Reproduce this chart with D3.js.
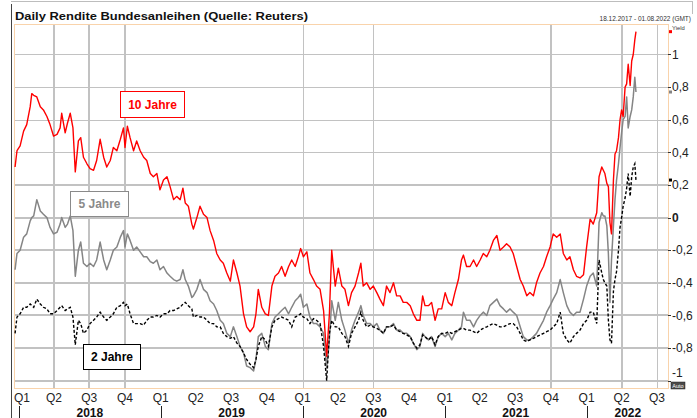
<!DOCTYPE html>
<html>
<head>
<meta charset="utf-8">
<script src="https://cdn.jsdelivr.net/npm/d3@7"></script>
<style>
  body { margin: 0; background: #fff; }
  svg { display: block; font-family: "Liberation Sans", Arial, sans-serif; }
</style>
</head>
<body>
<svg></svg>
<script>
// period shown in the chart header
const startDate = new Date(2017, 11, 18);
const endDate = new Date(2022, 7, 1);

// trading days, counted in days since 18.12.2017
const dayNr = [
  4, 9, 17, 26, 34, 43, 47, 52, 60, 69, 77, 86, 94, 103, 112, 120, 124, 133, 139, 146,
  153, 159, 167, 173, 180, 189, 197, 206, 214, 223, 232, 240, 249, 257, 266, 275, 283, 287, 293, 300,
  309, 317, 326, 335, 343, 352, 360, 369, 377, 386, 395, 403, 412, 420, 429, 436, 442, 450, 459, 463,
  472, 480, 489, 498, 506, 515, 523, 532, 540, 549, 558, 566, 575, 583, 592, 600, 609, 618, 624, 630,
  639, 648, 656, 665, 673, 682, 690, 699, 708, 716, 725, 733, 739, 746, 755, 763, 772, 780, 789, 798,
  806, 813, 819, 828,
  836, 845, 853, 862, 870, 879, 888, 894, 900, 909, 918, 926, 935, 943, 952, 960, 969, 978, 986, 995,
  1003, 1012, 1021, 1029, 1038, 1046, 1053, 1059, 1068, 1076, 1085, 1093, 1102, 1111, 1119, 1128, 1136, 1145, 1153, 1158,
  1166, 1175, 1184, 1192, 1201, 1209, 1218, 1226, 1235, 1244, 1252, 1261, 1269, 1278, 1286, 1295, 1304, 1312, 1321, 1329,
  1338, 1346, 1355, 1364, 1372, 1381, 1389, 1398, 1407, 1415, 1424, 1432, 1441, 1449, 1458, 1467, 1475, 1484, 1492, 1501,
  1507, 1514, 1518, 1522, 1527, 1531, 1535, 1539, 1544, 1548, 1552, 1557, 1561, 1565, 1569, 1574, 1578, 1582, 1587, 1591,
  1595, 1599, 1602
];

const yield10 = [
  0.31, 0.41, 0.44, 0.53, 0.57, 0.68, 0.76, 0.75, 0.74, 0.68, 0.66, 0.62, 0.57, 0.50, 0.51, 0.55, 0.64, 0.52, 0.58, 0.64,
  0.55, 0.28, 0.47, 0.49, 0.37, 0.33, 0.30, 0.29, 0.35, 0.48, 0.37, 0.31, 0.35, 0.43, 0.41, 0.48, 0.55, 0.43, 0.56, 0.49,
  0.41, 0.47, 0.41, 0.37, 0.35, 0.27, 0.25, 0.27, 0.17, 0.23, 0.25, 0.19, 0.11, 0.13, 0.11, 0.18, 0.09, 0.07, -0.04, -0.07,
  0.00, 0.07, 0.02, 0.00, -0.08, -0.14, -0.22, -0.26, -0.28, -0.34, -0.39, -0.26, -0.34, -0.42, -0.59, -0.67, -0.70, -0.67, -0.59, -0.44,
  -0.55, -0.59, -0.60, -0.42, -0.36, -0.34, -0.30, -0.36, -0.30, -0.26, -0.30, -0.24, -0.19, -0.24, -0.21, -0.34, -0.38, -0.42, -0.44, -0.57,
  -0.85, -0.59, -0.20, -0.42,
  -0.31, -0.42, -0.44, -0.54, -0.46, -0.42, -0.34, -0.28, -0.42, -0.40, -0.44, -0.42, -0.46, -0.50, -0.54, -0.42, -0.46, -0.40, -0.48, -0.48,
  -0.52, -0.52, -0.54, -0.59, -0.63, -0.63, -0.48, -0.54, -0.54, -0.52, -0.63, -0.56, -0.56, -0.46, -0.52, -0.54, -0.46, -0.38, -0.26, -0.23,
  -0.30, -0.30, -0.26, -0.30, -0.26, -0.22, -0.24, -0.20, -0.14, -0.11, -0.20, -0.18, -0.16, -0.18, -0.22, -0.30, -0.38, -0.42, -0.48, -0.46,
  -0.48, -0.40, -0.34, -0.30, -0.24, -0.18, -0.10, -0.12, -0.10, -0.22, -0.26, -0.24, -0.32, -0.36, -0.37, -0.35, -0.18, -0.01, -0.04, 0.03,
  0.25, 0.31, 0.29, 0.27, 0.21, 0.19, -0.03, -0.10, 0.23, 0.39, 0.41, 0.49, 0.60, 0.66, 0.62, 0.80, 0.82, 0.94, 0.81, 0.96,
  1.00, 1.09, 1.14
];

const yield5 = [
  -0.32, -0.22, -0.20, -0.12, -0.10, -0.02, 0.00, 0.01, 0.11, 0.04, 0.02, 0.00, -0.06, -0.10, -0.09, -0.04, 0.00, -0.06, -0.04, 0.01,
  -0.08, -0.36, -0.20, -0.15, -0.28, -0.30, -0.28, -0.30, -0.26, -0.15, -0.26, -0.32, -0.26, -0.20, -0.18, -0.12, -0.08, -0.18, -0.10, -0.14,
  -0.20, -0.18, -0.21, -0.24, -0.24, -0.27, -0.28, -0.26, -0.32, -0.30, -0.34, -0.36, -0.38, -0.39, -0.38, -0.32, -0.38, -0.42, -0.49, -0.48,
  -0.44, -0.38, -0.44, -0.46, -0.51, -0.53, -0.57, -0.63, -0.65, -0.71, -0.73, -0.67, -0.73, -0.79, -0.83, -0.91, -0.92, -0.94, -0.87, -0.73,
  -0.71, -0.79, -0.81, -0.65, -0.61, -0.59, -0.57, -0.55, -0.59, -0.55, -0.51, -0.49, -0.47, -0.55, -0.53, -0.61, -0.65, -0.65, -0.67, -0.71,
  -0.92, -0.75, -0.51, -0.63,
  -0.52, -0.63, -0.69, -0.77, -0.69, -0.63, -0.58, -0.54, -0.60, -0.65, -0.65, -0.67, -0.65, -0.69, -0.71, -0.67, -0.67, -0.65, -0.69, -0.69,
  -0.71, -0.71, -0.73, -0.77, -0.81, -0.79, -0.71, -0.73, -0.75, -0.73, -0.79, -0.73, -0.71, -0.73, -0.71, -0.75, -0.71, -0.69, -0.67, -0.58,
  -0.63, -0.63, -0.67, -0.63, -0.60, -0.58, -0.60, -0.54, -0.52, -0.50, -0.54, -0.56, -0.58, -0.56, -0.58, -0.60, -0.67, -0.73, -0.75, -0.75,
  -0.73, -0.71, -0.67, -0.63, -0.58, -0.54, -0.50, -0.46, -0.38, -0.46, -0.54, -0.58, -0.60, -0.58, -0.58, -0.50, -0.42, -0.36, -0.34, -0.42,
  -0.03, 0.03, 0.01, 0.01, -0.05, -0.22, -0.52, -0.26, -0.05, 0.11, 0.23, 0.33, 0.43, 0.52, 0.60, 0.62, 0.74, 0.55, 0.62, 0.66,
  0.74, 0.86, 0.77
];

const yield2 = [
  -0.71, -0.61, -0.59, -0.55, -0.55, -0.53, -0.54, -0.55, -0.50, -0.53, -0.55, -0.56, -0.59, -0.59, -0.57, -0.55, -0.54, -0.57, -0.56, -0.55,
  -0.61, -0.78, -0.63, -0.65, -0.71, -0.69, -0.65, -0.63, -0.61, -0.58, -0.61, -0.63, -0.61, -0.59, -0.55, -0.54, -0.52, -0.54, -0.53, -0.59,
  -0.65, -0.65, -0.65, -0.66, -0.63, -0.61, -0.61, -0.60, -0.61, -0.59, -0.59, -0.57, -0.57, -0.56, -0.55, -0.53, -0.52, -0.54, -0.56, -0.61,
  -0.60, -0.61, -0.61, -0.63, -0.65, -0.65, -0.67, -0.67, -0.71, -0.73, -0.74, -0.73, -0.77, -0.79, -0.83, -0.87, -0.90, -0.92, -0.87, -0.79,
  -0.73, -0.75, -0.79, -0.67, -0.63, -0.62, -0.61, -0.62, -0.63, -0.67, -0.61, -0.60, -0.59, -0.61, -0.62, -0.65, -0.62, -0.63, -0.65, -0.79,
  -1.00, -0.71, -0.63, -0.67,
  -0.67, -0.71, -0.73, -0.79, -0.71, -0.67, -0.63, -0.58, -0.63, -0.67, -0.66, -0.67, -0.68, -0.69, -0.71, -0.67, -0.67, -0.66, -0.69, -0.70,
  -0.71, -0.72, -0.73, -0.77, -0.80, -0.78, -0.72, -0.73, -0.75, -0.73, -0.78, -0.73, -0.71, -0.71, -0.70, -0.71, -0.70, -0.69, -0.68, -0.68,
  -0.69, -0.69, -0.70, -0.71, -0.69, -0.68, -0.67, -0.66, -0.65, -0.66, -0.67, -0.67, -0.66, -0.65, -0.65, -0.67, -0.71, -0.75, -0.76, -0.75,
  -0.74, -0.73, -0.72, -0.71, -0.70, -0.69, -0.67, -0.65, -0.58, -0.71, -0.75, -0.77, -0.73, -0.71, -0.69, -0.65, -0.63, -0.58, -0.58, -0.65,
  -0.26, -0.34, -0.38, -0.40, -0.42, -0.63, -0.75, -0.77, -0.45, -0.38, -0.33, -0.20, -0.06, 0.00, 0.07, 0.12, 0.18, 0.27, 0.13, 0.25,
  0.31, 0.33, 0.23
];

const seriesNames = ["10 Jahre", "5 Jahre", "2 Jahre"];
const yTicks = [-1, -0.8, -0.6, -0.4, -0.2, 0, 0.2, 0.4, 0.6, 0.8, 1];
const years = [2018, 2019, 2020, 2021, 2022];
// quarters that carry a vertical grid line in the original
const gridQuarters = ["2018-04-01", "2018-07-01", "2018-10-01", "2020-01-01", "2020-07-01", "2021-10-01", "2022-04-01", "2022-07-01"];

(function bundChart() {
  const W = 697, H = 418;
  const svg = d3.select("svg").attr("width", W).attr("height", H);

  const left = 14, right = 669, top = 24, bottom = 388;

  const x = d3.scaleTime().domain([startDate, endDate]).range([13.5, 669]);
  const y = d3.scaleLinear().domain([-1.045, 1.187]).range([bottom, top]);
  const fmt = d3.formatLocale({decimal: ",", thousands: ".", grouping: [3], currency: ["", " €"], minus: "-"}).format(".1~f");
  const toDate = d => d3.timeDay.offset(startDate, d);

  // outer frame + header
  svg.append("line").attr("x1", 11).attr("x2", 693).attr("y1", 1.5).attr("y2", 1.5)
      .attr("stroke", "#bdbdbd");
  svg.append("line").attr("x1", 692.5).attr("x2", 692.5).attr("y1", 1).attr("y2", 14)
      .attr("stroke", "#bdbdbd");
  svg.append("line").attr("x1", 11.5).attr("x2", 11.5).attr("y1", 4).attr("y2", H)
      .attr("stroke", "#444");

  svg.append("text")
      .attr("x", 15).attr("y", 20)
      .attr("font-size", 11).attr("font-weight", "bold").attr("fill", "#111")
      .attr("textLength", 293).attr("lengthAdjust", "spacingAndGlyphs")
      .text("Daily Rendite Bundesanleihen (Quelle: Reuters)");

  svg.append("text")
      .attr("x", 691).attr("y", 20.5).attr("text-anchor", "end")
      .attr("font-size", 6.5).attr("fill", "#333")
      .text(d3.timeFormat("%d.%m.%Y")(startDate) + " - " + d3.timeFormat("%d.%m.%Y")(endDate) + " (GMT)");

  svg.append("text")
      .attr("x", 672).attr("y", 30).attr("font-size", 5.8).attr("fill", "#333")
      .text("Yield");

  // horizontal grid
  svg.append("g")
      .selectAll("line")
      .data(yTicks)
      .join("line")
      .attr("x1", left).attr("x2", right)
      .attr("y1", d => d <= 0.2 ? Math.round(y(d)) : Math.round(y(d)) + 0.5)
      .attr("y2", d => d <= 0.2 ? Math.round(y(d)) : Math.round(y(d)) + 0.5)
      .attr("stroke", "#c2c2c2")
      .attr("stroke-width", d => d <= 0.2 ? 2 : 1);

  // vertical grid
  const thinQ = ["2020-01-01", "2020-07-01", "2022-07-01"];
  svg.append("g")
      .selectAll("line")
      .data(gridQuarters)
      .join("line")
      .attr("x1", d => Math.round(x(new Date(d + "T00:00"))) + (thinQ.includes(d) ? 0.5 : 0))
      .attr("x2", d => Math.round(x(new Date(d + "T00:00"))) + (thinQ.includes(d) ? 0.5 : 0))
      .attr("y1", top).attr("y2", bottom)
      .attr("stroke", "#c2c2c2")
      .attr("stroke-width", d => thinQ.includes(d) ? 1 : 2);

  // plot border
  svg.append("rect")
      .attr("x", left + 0.5).attr("y", top + 0.5)
      .attr("width", right - left - 1).attr("height", bottom - top)
      .attr("fill", "none").attr("stroke", "#f9d3ab");

  // series
  svg.append("clipPath").attr("id", "plotClip")
      .append("rect").attr("x", left).attr("y", top).attr("width", right - left).attr("height", bottom - top);

  const line = d3.line()
      .x((d, i) => x(toDate(dayNr[i])))
      .y(d => y(d));

  svg.append("path").datum(yield5)
      .attr("clip-path", "url(#plotClip)")
      .attr("d", line).attr("fill", "none")
      .attr("stroke", "#858585").attr("stroke-width", 1.5).attr("stroke-linejoin", "round");

  svg.append("path").datum(yield2)
      .attr("clip-path", "url(#plotClip)")
      .attr("d", line).attr("fill", "none")
      .attr("stroke", "#000").attr("stroke-width", 1.4).attr("stroke-dasharray", "3,2");

  svg.append("path").datum(yield10)
      .attr("clip-path", "url(#plotClip)")
      .attr("d", line).attr("fill", "none")
      .attr("stroke", "#ff0000").attr("stroke-width", 1.4).attr("stroke-linejoin", "round");

  // right axis
  const yAxis = svg.append("g");
  yAxis.selectAll("line")
      .data(yTicks)
      .join("line")
      .attr("x1", 668).attr("x2", 671)
      .attr("y1", d => Math.round(y(d)) + 0.5).attr("y2", d => Math.round(y(d)) + 0.5)
      .attr("stroke", "#333");
  yAxis.selectAll("text")
      .data(yTicks)
      .join("text")
      .attr("x", 672)
      .attr("y", d => d === -1 ? y(d) - 4 : y(d) + 4.3)
      .attr("font-size", 12)
      .attr("font-weight", d => d === 0 ? "bold" : "normal")
      .attr("fill", "#222")
      .text(d => fmt(d));

  // last-value markers
  const lastColors = ["#ff0000", "#858585", "#000"];
  [yield10, yield5, yield2].forEach((s, i) => {
    svg.append("rect")
        .attr("x", 669).attr("y", y(s[s.length - 1]) - 1.5)
        .attr("width", 3).attr("height", 3)
        .attr("fill", lastColors[i]);
  });

  // "Auto" button
  svg.append("rect").attr("x", 671).attr("y", 382).attr("width", 14).attr("height", 7)
      .attr("fill", "#4a4a4a").attr("stroke", "#222").attr("stroke-width", 0.5);
  svg.append("text").attr("x", 678).attr("y", 388).attr("text-anchor", "middle")
      .attr("font-size", 5.5).attr("fill", "#fff").text("Auto");

  // quarter labels
  const quarters = d3.timeMonth.every(3).range(new Date(2018, 0, 1), endDate);
  svg.append("g")
      .selectAll("text")
      .data(quarters)
      .join("text")
      .attr("x", d => Math.max(22, x(d)))
      .attr("y", 401.5)
      .attr("text-anchor", "middle")
      .attr("font-size", 12).attr("fill", "#222")
      .text(d => "Q" + (Math.floor(d.getMonth() / 3) + 1));

  // year separators + labels
  svg.append("g")
      .selectAll("line")
      .data(years)
      .join("line")
      .attr("x1", d => Math.round(x(new Date(d, 0, 1))) + 0.5)
      .attr("x2", d => Math.round(x(new Date(d, 0, 1))) + 0.5)
      .attr("y1", 406).attr("y2", H)
      .attr("stroke", "#222");
  svg.append("g")
      .selectAll("text")
      .data(years)
      .join("text")
      .attr("x", d => (x(new Date(d, 0, 1)) + x(d3.min([new Date(d + 1, 0, 1), endDate]))) / 2)
      .attr("y", 416.5)
      .attr("text-anchor", "middle")
      .attr("font-size", 12).attr("font-weight", "bold").attr("fill", "#111")
      .text(d => d);

  // series label boxes
  const boxes = [
    {x: 120.5, y: 91.5, w: 64, h: 26, color: "#ff0000"},
    {x: 70.5, y: 191.5, w: 58, h: 25, color: "#8a8a8a"},
    {x: 83.5, y: 344.5, w: 57, h: 25, color: "#000"}
  ];
  seriesNames.forEach((name, i) => {
    const b = boxes[i];
    svg.append("rect")
        .attr("x", b.x).attr("y", b.y).attr("width", b.w).attr("height", b.h)
        .attr("fill", "#fff").attr("stroke", b.color);
    svg.append("text")
        .attr("x", b.x + b.w / 2).attr("y", b.y + b.h / 2 + 4.3)
        .attr("text-anchor", "middle")
        .attr("font-size", 12).attr("font-weight", "bold").attr("fill", b.color)
        .text(name);
  });
})();
</script>
</body>
</html>
